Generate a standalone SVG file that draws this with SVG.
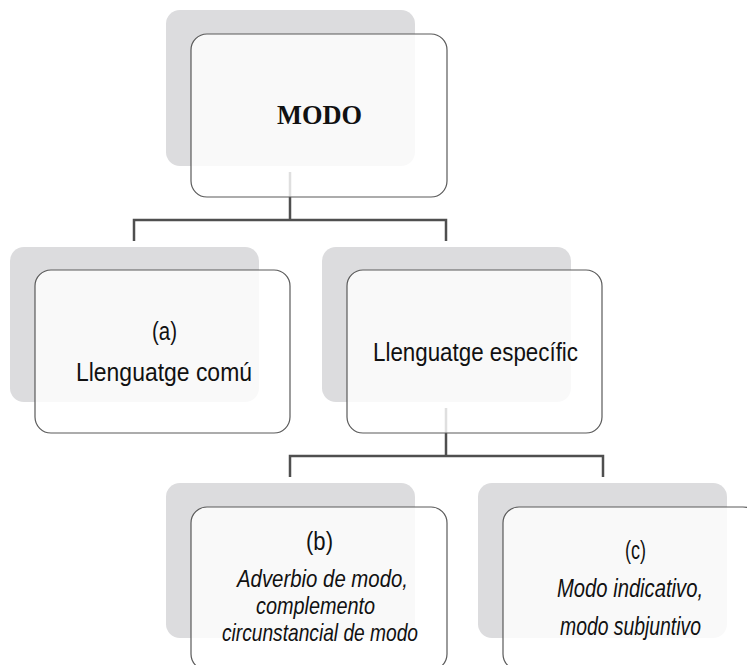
<svg xmlns="http://www.w3.org/2000/svg" width="747" height="665" viewBox="0 0 747 665">
  <style>
    .shadow { fill: #dcdcde; }
    .box { fill: #ffffff; fill-opacity: 0.82; stroke: #5a5a5a; stroke-width: 1.2; }
    .conn { fill: none; stroke: #4f4f4f; stroke-width: 2.5; }
    .lbl { font-family: "Liberation Sans", Arial, sans-serif; font-size: 26px; fill: #111; text-anchor: middle; }
    .it { font-family: "Liberation Sans", Arial, sans-serif; font-size: 25px; font-style: italic; fill: #111; text-anchor: middle; }
    .it-tight { font-size: 24px; }
    .title { font-family: "Liberation Serif", "Times New Roman", serif; font-size: 27px; font-weight: bold; fill: #111; text-anchor: middle; }
  </style>
  <rect width="747" height="665" fill="#ffffff"/>

  <!-- back panels -->
  <g id="shadows">
    <rect class="shadow" x="166" y="10" width="249" height="156" rx="14"/>
    <rect class="shadow" x="10" y="247" width="249" height="155" rx="14"/>
    <rect class="shadow" x="322" y="247" width="249" height="155" rx="14"/>
    <rect class="shadow" x="166" y="483" width="249" height="155" rx="14"/>
    <rect class="shadow" x="478" y="483" width="249" height="155" rx="14"/>
  </g>

  <!-- connectors -->
  <g id="connectors">
    <path class="conn" d="M290 172 V220 M134 241 V220 H446 V241"/>
    <path class="conn" d="M446 408 V456 M290 477 V456 H603 V477"/>
  </g>

  <g id="node-modo">
    <rect class="box" x="191" y="34" width="256" height="163" rx="16"/>
    <text class="title" x="319.5" y="124" textLength="85" lengthAdjust="spacingAndGlyphs">MODO</text>
  </g>

  <g id="node-a">
    <rect class="box" x="35" y="270" width="255" height="163" rx="16"/>
    <text class="lbl" x="164.5" y="340" textLength="25" lengthAdjust="spacingAndGlyphs">(a)</text>
    <text class="lbl" x="164" y="381" textLength="176" lengthAdjust="spacingAndGlyphs">Llenguatge comú</text>
  </g>

  <g id="node-especific">
    <rect class="box" x="347" y="270" width="255" height="163" rx="16"/>
    <text class="lbl" x="475.5" y="361" textLength="205" lengthAdjust="spacingAndGlyphs">Llenguatge específic</text>
  </g>

  <g id="node-b">
    <rect class="box" x="191" y="507" width="256" height="163" rx="16"/>
    <text class="lbl" x="319.5" y="550" textLength="27" lengthAdjust="spacingAndGlyphs">(b)</text>
    <text class="it it-tight" x="322.5" y="587" textLength="171" lengthAdjust="spacingAndGlyphs">Adverbio de modo,</text>
    <text class="it it-tight" x="315.5" y="614" textLength="119" lengthAdjust="spacingAndGlyphs">complemento</text>
    <text class="it it-tight" x="320" y="641" textLength="196" lengthAdjust="spacingAndGlyphs">circunstancial de modo</text>
  </g>

  <g id="node-c">
    <rect class="box" x="503" y="507" width="256" height="163" rx="16"/>
    <text class="lbl" x="635.5" y="559" textLength="21" lengthAdjust="spacingAndGlyphs">(c)</text>
    <text class="it" x="630" y="597" textLength="146" lengthAdjust="spacingAndGlyphs">Modo indicativo,</text>
    <text class="it" x="630.5" y="635" textLength="141" lengthAdjust="spacingAndGlyphs">modo subjuntivo</text>
  </g>
</svg>
